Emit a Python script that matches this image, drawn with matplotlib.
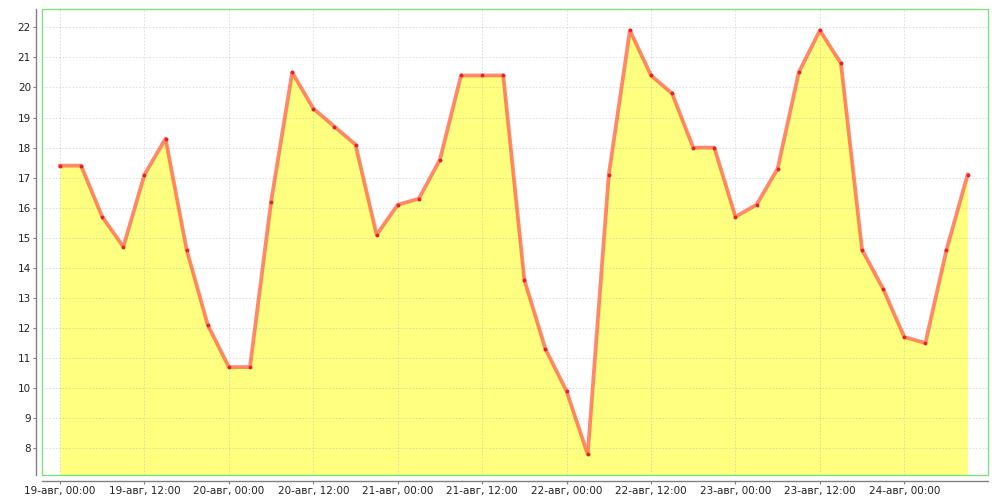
import matplotlib
matplotlib.use('Agg')
import matplotlib.pyplot as plt
from matplotlib.patches import Rectangle
import pandas as pd

# 3-hourly readings, 19-авг 00:00 .. 24-авг 09:00
start = '2024-08-19 00:00'
values = [17.4, 17.4, 15.7, 14.7, 17.1, 18.3, 14.6, 12.1,
          10.7, 10.7, 16.2, 20.5, 19.3, 18.7, 18.1, 15.1,
          16.1, 16.3, 17.6, 20.4, 20.4, 20.4, 13.6, 11.3,
          9.9, 7.8, 17.1, 21.9, 20.4, 19.8, 18.0, 18.0,
          15.7, 16.1, 17.3, 20.5, 21.9, 20.8, 14.6, 13.3,
          11.7, 11.5, 14.6, 17.1]
times = pd.date_range(start, periods=len(values), freq='3h')
y_ticks = list(range(8, 23))
month = 'авг'

fig = plt.figure(figsize=(10, 5), dpi=100)
ax = fig.add_axes([0.042, 0.05, 0.946, 0.932])

y_lo, y_hi = 7.11, 22.61
ax.fill_between(times, values, y_lo, color='#ffff80', linewidth=0, zorder=1)
ax.plot(times, values, color='#ff5a3c', alpha=0.72, linewidth=2.7, zorder=3,
        solid_joinstyle='round')
ax.plot(times, values, color='#e8202a', linewidth=0, marker='o', markersize=1.8,
        zorder=4)

t0 = pd.Timestamp(start)
ax.set_xlim(t0 - pd.Timedelta(hours=2.56), t0 + pd.Timedelta(hours=131.9))
ax.set_ylim(y_lo, y_hi)

xt = pd.date_range(start, periods=11, freq='12h')
ax.set_xticks(xt)
ax.set_xticklabels([f"{d.day}-{month}, {d:%H:%M}" for d in xt])
ax.set_yticks(y_ticks)
ax.set_yticklabels([str(v) for v in y_ticks])

# grid drawn over the fill, faint like the original
ax.grid(True, color='#b0b0b0', alpha=0.45, linestyle=(0, (2, 2)), linewidth=0.6,
        zorder=2)
ax.set_axisbelow(False)

for s in ['top', 'right']:
    ax.spines[s].set_visible(False)
for s in ['left', 'bottom']:
    ax.spines[s].set_position(('outward', 4))
    ax.spines[s].set_color('#808080')
    ax.spines[s].set_linewidth(1)
ax.add_patch(Rectangle((0, 0), 1, 1, transform=ax.transAxes, fill=False,
                       edgecolor='#80e080', linewidth=1, zorder=5, clip_on=False))

ax.tick_params(axis='both', direction='out', length=2, width=0.8, color='#808080',
               labelsize=7.5, labelcolor='#222222', pad=2)

fig.savefig('out.png', dpi=100)
